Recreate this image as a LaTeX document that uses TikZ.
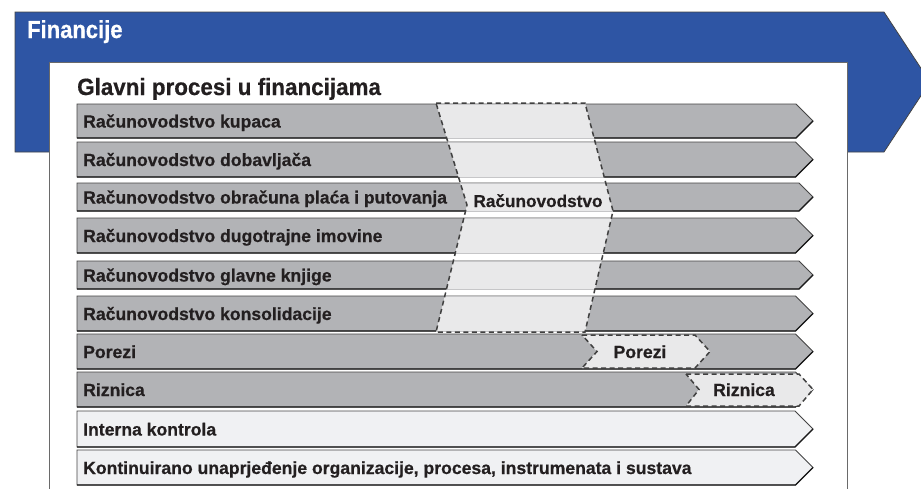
\documentclass[tikz,border=0pt]{standalone}
\usepackage{fontspec}
\setmainfont[BoldFeatures={FakeBold=0.5}]{Liberation Sans}
\definecolor{frameblue}{HTML}{2E55A4}
\definecolor{rowgray}{HTML}{B2B3B6}
\definecolor{bandgray}{HTML}{E9E9EA}
\definecolor{lightrow}{HTML}{F0F1F3}
\definecolor{txt}{HTML}{231F20}
\definecolor{rowedge}{HTML}{444444}
\definecolor{rowshadow}{HTML}{1A1A1A}
\definecolor{bandedge}{HTML}{C6C6C8}
\definecolor{dashcol}{HTML}{404040}
\definecolor{paneledge}{HTML}{6A6A6A}
\tikzset{
  rowtext/.style={font=\bfseries\fontsize{17.6}{20}\selectfont, text=txt, inner sep=0pt, anchor=base west},
  dashline/.style={draw=dashcol, line width=1.5pt, dash pattern=on 5pt off 3.5pt},
  rowshape/.style={draw=rowedge, line width=0.9pt, line join=miter},
}
\begin{document}
\begin{tikzpicture}[x=1pt,y=-1pt]
\useasboundingbox (0,0) rectangle (921,488);
\clip (0,0) rectangle (921,488);
\fill[white] (0,0) rectangle (921,488);
% blue frame arrow
\filldraw[fill=frameblue, draw=rowedge, line width=0.8pt] (15,12) -- (884,12) -- (930,82) -- (884,152) -- (15,152) -- cycle;
% white panel
\fill[white] (49,62) rectangle (847,495);
\draw[paneledge, line width=0.9pt] (49,495) -- (49,62) -- (847,62) -- (847,495);
\node[font=\bfseries\fontsize{22}{24}\selectfont, text=white, inner sep=0pt, anchor=base west] (title) at (27,38) {\scalebox{1}[1.12]{Financije}};
\node[font=\bfseries\fontsize{22.4}{25}\selectfont, text=txt, inner sep=0pt, anchor=base west] (subtitle) at (77,95) {\scalebox{1}[1.05]{Glavni procesi u financijama}};
% rows
\foreach \t/\b/\f [count=\i] in {
  104/138/rowgray, 142/177/rowgray, 183/211/rowgray, 218/253/rowgray,
  261/289/rowgray, 296/331/rowgray, 334/369/rowgray, 372/407/rowgray,
  411/447/lightrow, 450/485/lightrow}{
  \pgfmathsetmacro\m{(\t+\b)/2}
  \pgfmathsetmacro\c{813-(\b-\t)/2}
  \filldraw[fill=\f, rowshape] (77,\t) -- (\c,\t) -- (813,\m) -- (\c,\b) -- (77,\b) -- cycle;
  \draw[rowshadow, line width=1.3pt] (77,\b) -- (\c,\b) -- (813,\m);
}
% Racunovodstvo band
\begin{scope}
  \clip (436,103) -- (585,103) -- (613,211) -- (585,332) -- (436,332) -- (467,205) -- cycle;
  \foreach \t/\b in {104/138,142/177,183/211,218/253,261/289,296/331}{
    \filldraw[fill=bandgray, draw=bandedge, line width=1pt] (70,\t) rectangle (830,\b);
  }
\end{scope}
\draw[dashline] (436,103) -- (585,103) -- (613,211) -- (585,332) -- (436,332) -- (467,205) -- cycle;
% Porezi / Riznica chevrons
\filldraw[fill=bandgray, dashline] (582,335) -- (695,335) -- (710,351.5) -- (695,368) -- (582,368) -- (597,351.5) -- cycle;
\filldraw[fill=bandgray, dashline] (686,374) -- (799,374) -- (813,389.5) -- (799,406) -- (686,406) -- (699,389.5) -- cycle;
% row labels
\foreach \t/\b/\lab [count=\i] in {
  104/138/{Računovodstvo kupaca},
  142/177/{Računovodstvo dobavljača},
  183/211/{Računovodstvo obračuna plaća i putovanja},
  218/253/{Računovodstvo dugotrajne imovine},
  261/289/{Računovodstvo glavne knjige},
  296/331/{Računovodstvo konsolidacije},
  334/369/{Porezi},
  372/407/{Riznica},
  411/447/{Interna kontrola},
  450/485/{Kontinuirano unaprjeđenje organizacije, procesa, instrumenata i sustava}}{
  \pgfmathsetmacro\m{(\t+\b)/2+6.5}
  \node[rowtext] (label\i) at (83,\m) {\lab};
}
\node[rowtext, font=\bfseries\fontsize{17.2}{19}\selectfont, anchor=base] (bandlabel) at (538,207) {Računovodstvo};
\node[rowtext, anchor=base] (porezilabel) at (640,358) {Porezi};
\node[rowtext, anchor=base] (riznicalabel) at (744,396) {Riznica};
\end{tikzpicture}
\end{document}
